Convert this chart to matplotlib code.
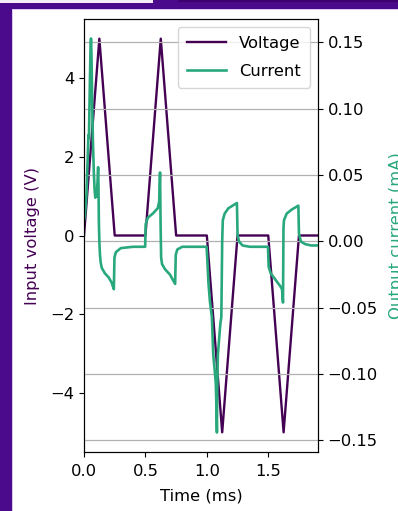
import matplotlib
matplotlib.use("Agg")
import matplotlib.pyplot as plt
from matplotlib.patches import Rectangle

# Input voltage waveform (ms, V)
time_v = [0.0, 0.125, 0.25, 0.5, 0.625, 0.75, 1.0, 1.125, 1.25, 1.5, 1.625, 1.75, 1.905]
voltage = [0, 5, 0, 0, 5, 0, 0, -5, 0, 0, -5, 0, 0]

# Measured output current (ms, mA)
time_i = [
    0.000, 0.008, 0.020, 0.030, 0.036, 0.040, 0.047, 0.053, 0.057, 0.061,
    0.066, 0.072, 0.080, 0.087, 0.092, 0.098, 0.104, 0.110, 0.115, 0.118,
    0.121, 0.125, 0.130, 0.136, 0.145, 0.170, 0.200, 0.225, 0.243, 0.248,
    0.260, 0.300, 0.400, 0.498, 0.502, 0.520, 0.560, 0.600, 0.612, 0.619,
    0.624, 0.628, 0.635, 0.660, 0.700, 0.742, 0.747, 0.760, 0.800, 0.998,
    1.003, 1.013, 1.025, 1.041, 1.052, 1.062, 1.073, 1.078, 1.082, 1.085,
    1.090, 1.110, 1.118, 1.125, 1.130, 1.145, 1.175, 1.210, 1.245, 1.250,
    1.262, 1.290, 1.350, 1.498, 1.503, 1.520, 1.560, 1.600, 1.612, 1.620,
    1.624, 1.628, 1.650, 1.690, 1.745, 1.750, 1.765, 1.800, 1.850, 1.905,
]
current = [
    0.016, 0.020, 0.035, 0.062, 0.080, 0.078, 0.115, 0.145, 0.153, 0.140,
    0.108, 0.078, 0.052, 0.038, 0.033, 0.036, 0.034, 0.045, 0.056, 0.042,
    0.015, 0.000, -0.010, -0.016, -0.020, -0.024, -0.027, -0.031, -0.036, -0.012,
    -0.008, -0.005, -0.004, -0.004, 0.013, 0.018, 0.021, 0.025, 0.030, 0.052,
    0.010, -0.012, -0.017, -0.021, -0.025, -0.032, -0.010, -0.006, -0.004, -0.004,
    -0.012, -0.031, -0.045, -0.057, -0.085, -0.095, -0.107, -0.125, -0.144, -0.110,
    -0.085, -0.062, -0.057, 0.000, 0.016, 0.021, 0.025, 0.027, 0.029, 0.005,
    0.000, -0.003, -0.004, -0.004, -0.019, -0.024, -0.029, -0.034, -0.036, -0.046,
    0.010, 0.016, 0.021, 0.024, 0.027, 0.006, 0.000, -0.002, -0.003, -0.003,
]

V_COLOR = "#440154"
I_COLOR = "#29a87c"
FS = 11.8

W, H = 398, 511
fig = plt.figure(figsize=(W / 100, H / 100), dpi=100)
fig.patch.set_facecolor("white")

# Slide frame around the figure
frame = "#4b0a8c"
def px_rect(x0, y0, x1, y1, color):
    fig.patches.append(Rectangle((x0 / W, 1 - y1 / H), (x1 - x0) / W, (y1 - y0) / H,
                                 transform=fig.transFigure, facecolor=color,
                                 edgecolor="none", zorder=-10))
px_rect(0, 0, 12, H, frame)
px_rect(0, 0, W, 9, frame)
px_rect(0, 0, 153, 3, "#f4eefa")
px_rect(178, 0, W, 2, "#3c0070")
px_rect(12, 9, 13, H, "#d9c8ee")
px_rect(12, 9, W, 10, "#d9c8ee")

ax = fig.add_axes([84 / W, 1 - 452 / H, (318 - 84) / W, (452 - 19) / H])
ax2 = ax.twinx()

l1, = ax.plot(time_v, voltage, color=V_COLOR, lw=1.7, label="Voltage")
l2, = ax2.plot(time_i, current, color=I_COLOR, lw=1.9, label="Current")

ax.set_xlim(time_v[0], time_v[-1])
ax.set_ylim(-5.5, 5.5)
ax2.set_ylim(-0.1587, 0.1677)
ax.set_xticks([0.0, 0.5, 1.0, 1.5])
ax.set_yticks([-4, -2, 0, 2, 4])
ax2.set_yticks([-0.15, -0.10, -0.05, 0.0, 0.05, 0.10, 0.15])

ax2.grid(True, axis="y", color="#b0b0b0", lw=0.9)

ax.set_xlabel("Time (ms)", fontsize=FS, labelpad=7)
ax.set_ylabel("Input voltage (V)", color=V_COLOR, fontsize=FS, labelpad=7)
ax2.set_ylabel("Output current (mA)", color=I_COLOR, fontsize=FS, labelpad=8)
ax.tick_params(labelsize=FS)
ax.tick_params(axis="x", pad=5)
ax2.tick_params(labelsize=FS)

ax2.legend([l1, l2], ["Voltage", "Current"], loc="upper right", fontsize=FS,
           handlelength=2.4, labelspacing=0.75, borderpad=0.55)

fig.savefig("out.png", dpi=100)
